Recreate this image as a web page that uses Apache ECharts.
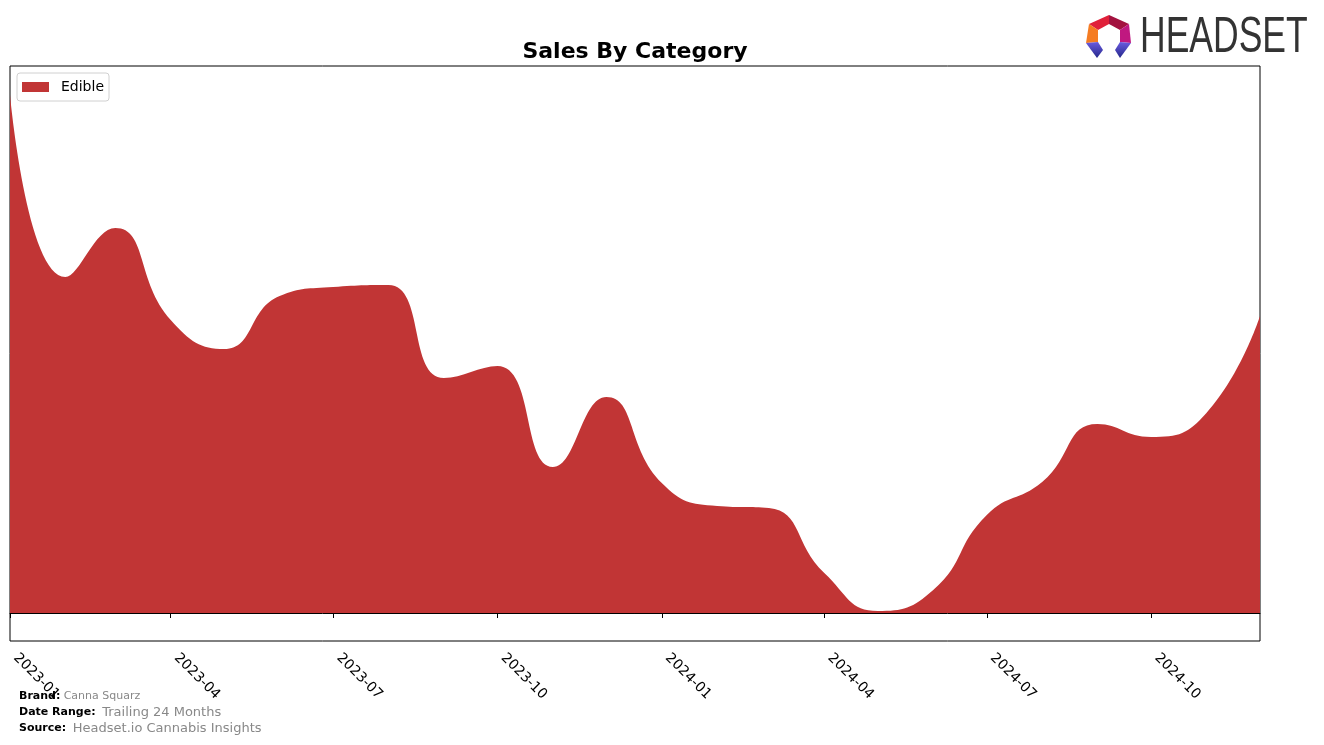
<!DOCTYPE html>
<html><head><meta charset="utf-8">
<script src="https://cdn.jsdelivr.net/npm/echarts@6/dist/echarts.min.js"></script>
<style>html,body{margin:0;padding:0;background:#fff}#c{width:1324px;height:745px}</style>
</head><body><div id="c"></div>
<script>
const months = ['2023-01-01','2023-02-01','2023-03-01','2023-04-01','2023-05-01','2023-06-01','2023-07-01','2023-08-01','2023-09-01','2023-10-01','2023-11-01','2023-12-01','2024-01-01','2024-02-01','2024-03-01','2024-04-01','2024-05-01','2024-06-01','2024-07-01','2024-08-01','2024-09-01','2024-10-01','2024-11-01','2024-12-01'];
const edible = [518,336,385,293,264,317,326,328,235,247,146,216,130,107,105,40,2,23,98,131,189,176,200,297];
const tickLabels = ['2023-01','2023-04','2023-07','2023-10','2024-01','2024-04','2024-07','2024-10'];
const seriesName = 'Edible';

const DAY = 86400000;
const toDay = s => Math.round(new Date(s + 'T00:00:00Z').getTime() / DAY);
const tickVals = tickLabels.map(t => toDay(t + '-01'));
const data = months.map((m,i) => [toDay(m), edible[i]]);
const legGrad = {type:'linear',x:0,y:0,x2:0,y2:1,colorStops:[{offset:0,color:'#6a5be0'},{offset:1,color:'#24288a'}]};

const chart = echarts.init(document.getElementById('c'));
chart.setOption({
  animation:false,
  title:{text:'Sales By Category',left:630,top:36,textAlign:'center',textStyle:{fontFamily:'DejaVu Sans',fontWeight:'bold',fontSize:22,color:'#000'}},
  legend:{left:17,top:73,itemWidth:27,itemHeight:10,padding:[7,5,7,5],borderColor:'#d0d0d0',borderWidth:1,borderRadius:3,
    textStyle:{fontFamily:'DejaVu Sans',fontSize:14,color:'#000',padding:[0,0,0,7]},data:[{name:seriesName,icon:'rect'}]},
  grid:{left:10,right:64,top:66,bottom:104,show:true,borderColor:'#000',borderWidth:1,containLabel:false},
  xAxis:{type:'value',min:data[0][0],max:data[data.length-1][0],
    axisLine:{show:true,lineStyle:{color:'#000'}},splitLine:{show:false},
    axisTick:{show:true,customValues:tickVals,length:5,lineStyle:{color:'#000'}},
    axisLabel:{customValues:tickVals,rotate:-45,fontFamily:'DejaVu Sans',fontSize:14,color:'#000',margin:9,padding:[0,0,0,8],
      formatter:function(v){const d=new Date(v*DAY);return d.getUTCFullYear()+'-'+String(d.getUTCMonth()+1).padStart(2,'0');}}},
  yAxis:{type:'value',min:-28,max:547,show:false,splitLine:{show:false}},
  series:[{name:seriesName,type:'line',data:data,smooth:0.5,symbol:'none',lineStyle:{width:0,color:'#c13535'},
    itemStyle:{color:'#c13535'},areaStyle:{color:'#c13535',opacity:1,origin:0}}],
  graphic:[
    {type:'polygon',shape:{points:[[1089,24],[1109,15],[1109,24],[1098,30]]},style:{fill:'#e0203a'}},
    {type:'polygon',shape:{points:[[1109,15],[1129,24],[1120,30],[1109,24]]},style:{fill:'#a3123f'}},
    {type:'polygon',shape:{points:[[1089,24],[1098,30],[1098,42],[1086,43]]},style:{fill:'#f57c22'}},
    {type:'polygon',shape:{points:[[1129,24],[1131,43],[1120,42],[1120,30]]},style:{fill:'#c01880'}},
    {type:'polygon',shape:{points:[[1086,43],[1098,42],[1103,50],[1097,58]]},style:{fill:legGrad}},
    {type:'polygon',shape:{points:[[1131,43],[1120,42],[1115,50],[1120,58]]},style:{fill:legGrad}},
    {type:'text',x:1140,y:38,scaleX:0.71,style:{text:'HEADSET',x:0,y:0,align:'left',verticalAlign:'middle',fill:'#333',font:'50px "Liberation Sans", sans-serif'}},
    {type:'text',left:19,top:690,style:{rich:{b:{fontFamily:'DejaVu Sans',fontWeight:'bold',fontSize:11,fill:'#000'},g:{fontFamily:'DejaVu Sans',fontSize:11,fill:'#888'}},text:'{b|Brand:} {g|Canna Squarz}'}},
    {type:'text',left:19,top:706,style:{rich:{b:{fontFamily:'DejaVu Sans',fontWeight:'bold',fontSize:11,fill:'#000'},g:{fontFamily:'DejaVu Sans',fontSize:13,fill:'#888'}},text:'{b|Date Range:}  {g|Trailing 24 Months}'}},
    {type:'text',left:19,top:722,style:{rich:{b:{fontFamily:'DejaVu Sans',fontWeight:'bold',fontSize:11,fill:'#000'},g:{fontFamily:'DejaVu Sans',fontSize:13,fill:'#888'}},text:'{b|Source:}  {g|Headset.io Cannabis Insights}'}}
  ]
});
</script></body></html>
